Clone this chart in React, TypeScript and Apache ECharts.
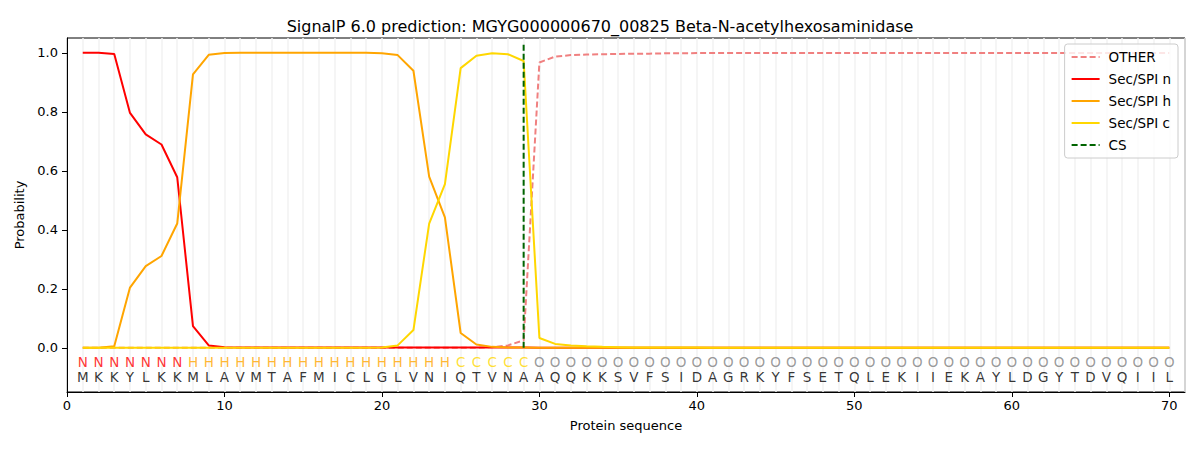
import React, { useEffect, useRef } from "react";
import * as echarts from "echarts";

const titleText = "SignalP 6.0 prediction: MGYG000000670_00825 Beta-N-acetylhexosaminidase";
const sequence = "MKKYLKKMLAVMTAFMICLGLVNIQTVNAAQQKKSVFSIDAGRKYFSETQLEKIIEKAYLDGYTDVQIIL".split("");
const regionLabels = (
  "NNNNNNN" + "HHHHHHHHHHHHHHHHH" + "CCCCC" + "O".repeat(41)
).split("");
const xTicks = [0, 10, 20, 30, 40, 50, 60, 70];
const yTicks = [0, 0.2, 0.4, 0.6, 0.8, 1.0];
const csPosition = 29;

const otherProb = [
  0, 0, 0, 0, 0, 0, 0, 0, 0, 0,
  0, 0, 0, 0, 0, 0, 0, 0, 0, 0,
  0, 0, 0, 0, 0, 0, 0.002, 0.008, 0.025, 0.967,
  0.987, 0.992, 0.994, 0.995, 0.996, 0.997, 0.997, 0.998, 0.998, 0.999,
  0.999, 0.999, 0.999, 0.999, 0.999, 0.999, 0.999, 0.999, 0.999, 0.999,
  0.999, 0.999, 0.999, 0.999, 0.999, 0.999, 0.999, 0.999, 0.999, 0.999,
  0.999, 0.999, 0.999, 0.999, 0.999, 0.999, 0.999, 0.999, 0.999, 0.999,
];
const secN = [
  1.0, 1.0, 0.996, 0.796, 0.723, 0.689, 0.578, 0.073, 0.008, 0.002,
  0.001, 0.001, 0.001, 0.001, 0.001, 0.001, 0.001, 0.001, 0.001, 0.001,
  0.001, 0.001, 0.001, 0.001, 0.001, 0.001, 0.001, 0.001, 0.001, 0,
  0, 0, 0, 0, 0, 0, 0, 0, 0, 0,
  0, 0, 0, 0, 0, 0, 0, 0, 0, 0,
  0, 0, 0, 0, 0, 0, 0, 0, 0, 0,
  0, 0, 0, 0, 0, 0, 0, 0, 0, 0,
];
const secH = [
  0, 0, 0.005, 0.204, 0.277, 0.311, 0.421, 0.927, 0.993, 0.999,
  1, 1, 1, 1, 1, 1, 1, 1, 1, 0.998,
  0.992, 0.939, 0.58, 0.442, 0.05, 0.011, 0.003, 0.001, 0.001, 0,
  0, 0, 0, 0, 0, 0, 0, 0, 0, 0,
  0, 0, 0, 0, 0, 0, 0, 0, 0, 0,
  0, 0, 0, 0, 0, 0, 0, 0, 0, 0,
  0, 0, 0, 0, 0, 0, 0, 0, 0, 0,
];
const secC = [
  0, 0, 0, 0, 0, 0, 0, 0, 0, 0,
  0, 0, 0, 0, 0, 0, 0, 0, 0, 0.001,
  0.008, 0.06, 0.421, 0.555, 0.948, 0.99, 0.998, 0.995, 0.972, 0.033,
  0.013, 0.008, 0.005, 0.003, 0.002, 0.001, 0.001, 0.001, 0.001, 0.001,
  0, 0, 0, 0, 0, 0, 0, 0, 0, 0,
  0, 0, 0, 0, 0, 0, 0, 0, 0, 0,
  0, 0, 0, 0, 0, 0, 0, 0, 0, 0,
];

const regionColor: Record<string, string> = {
  N: "#ff0000",
  H: "#ffa500",
  C: "#ffd700",
  O: "#808080",
};

const FONT = "DejaVu Sans";

export default function App() {
  const ref = useRef<HTMLDivElement>(null);
  useEffect(() => {
    if (!ref.current) return;
    const chart = echarts.init(ref.current, undefined, { renderer: "svg" });
    const toXY = (arr: number[]) => arr.map((v, i) => [i + 1, v]);
    const lineSeries = (name: string, data: number[], color: string, dashed = false) => ({
      name,
      type: "line",
      data: toXY(data),
      symbol: "none",
      lineStyle: { color, width: 2, type: dashed ? [6, 3] : "solid" },
      itemStyle: { color },
      z: 3,
    });
    chart.setOption({
      animation: false,
      title: {
        text: titleText,
        left: "center",
        top: 13,
        textStyle: { fontFamily: FONT, fontSize: 16, fontWeight: "normal", color: "#000" },
      },
      grid: {
        left: 67,
        right: 15,
        top: 38,
        bottom: 58,
        show: true,
        borderColor: "#000",
        borderWidth: 1,
        backgroundColor: "transparent",
      },
      legend: {
        orient: "vertical",
        right: 22,
        top: 44,
        data: ["OTHER", "Sec/SPI n", "Sec/SPI h", "Sec/SPI c", "CS"],
        itemWidth: 28,
        itemHeight: 14,
        itemGap: 8,
        padding: [6, 7, 6, 6],
        borderColor: "#cccccc",
        borderWidth: 1,
        borderRadius: 3,
        backgroundColor: "rgba(255,255,255,0.8)",
        itemStyle: { opacity: 0 },
        lineStyle: { width: 2 },
        textStyle: { fontFamily: FONT, fontSize: 13.5, color: "#000", padding: [0, 0, 0, 4] },
      },
      xAxis: [
        {
          type: "value",
          min: 0,
          max: 71,
          name: "Protein sequence",
          nameLocation: "middle",
          nameGap: 27,
          nameTextStyle: { fontFamily: FONT, fontSize: 13, color: "#000" },
          axisLine: { show: true, onZero: false, lineStyle: { color: "#000" } },
          axisTick: { show: true, length: 5, customValues: xTicks, lineStyle: { color: "#000" } },
          axisLabel: {
            customValues: xTicks,
            fontFamily: FONT,
            fontSize: 13,
            color: "#000",
            margin: 7,
          },
          splitLine: { show: false },
        },
        {
          type: "value",
          min: 0,
          max: 71,
          interval: 1,
          position: "bottom",
          axisLine: { show: false },
          axisTick: { show: false },
          axisLabel: { show: false },
          splitLine: { show: true, lineStyle: { color: "#f2f2f2", width: 1.5 } },
        },
      ],
      yAxis: {
        type: "value",
        min: -0.15,
        max: 1.05,
        name: "Probability",
        nameLocation: "middle",
        nameGap: 38,
        nameTextStyle: { fontFamily: FONT, fontSize: 13, color: "#000" },
        axisLine: { show: true, onZero: false, lineStyle: { color: "#000" } },
        axisTick: { show: true, length: 5, customValues: yTicks, lineStyle: { color: "#000" } },
        axisLabel: {
          customValues: yTicks,
          fontFamily: FONT,
          fontSize: 13,
          color: "#000",
          margin: 9,
          formatter: (v: number) => v.toFixed(1),
        },
        splitLine: { show: false },
      },
      series: [
        lineSeries("OTHER", otherProb, "#f08080", true),
        lineSeries("Sec/SPI n", secN, "#ff0000"),
        lineSeries("Sec/SPI h", secH, "#ffa500"),
        lineSeries("Sec/SPI c", secC, "#ffd700"),
        {
          name: "CS",
          type: "line",
          data: [
            [csPosition, 0],
            [csPosition, 1.035],
          ],
          symbol: "none",
          lineStyle: { color: "#006400", width: 2, type: [6, 3] },
          itemStyle: { color: "#006400" },
          z: 4,
        },
        {
          name: "regions",
          type: "scatter",
          symbolSize: 0,
          data: regionLabels.map((r, i) => ({
            value: [i + 1, -0.047],
            label: { color: regionColor[r] },
          })),
          label: {
            show: true,
            position: "inside",
            formatter: (p: any) => regionLabels[p.dataIndex],
            fontFamily: FONT,
            fontSize: 13.5,
          },
          z: 5,
          silent: true,
        },
        {
          name: "residues",
          type: "scatter",
          symbolSize: 0,
          data: sequence.map((_, i) => [i + 1, -0.1]),
          label: {
            show: true,
            position: "inside",
            formatter: (p: any) => sequence[p.dataIndex],
            fontFamily: FONT,
            fontSize: 13.5,
            color: "#000",
          },
          z: 5,
          silent: true,
        },
      ],
    });
    return () => chart.dispose();
  }, []);
  return (
    <div
      ref={ref}
      style={{ position: "absolute", left: 0, top: 0, width: 1200, height: 450, background: "#fff" }}
    />
  );
}
